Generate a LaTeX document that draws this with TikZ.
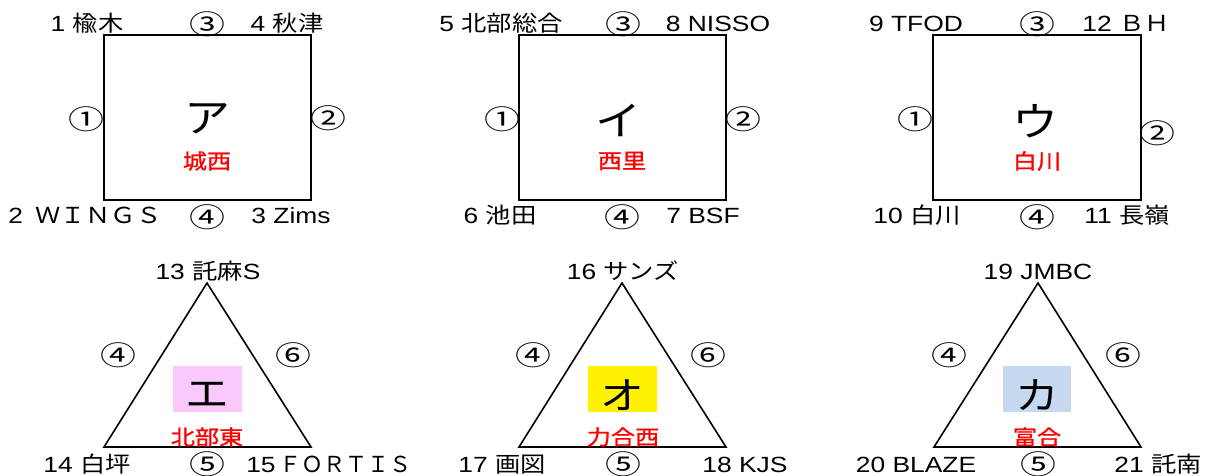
\documentclass[tikz,border=0pt]{standalone}
\usepackage{fontspec}
\setmainfont[FakeStretch=1.2]{Liberation Sans}
\newfontfamily\jp[FakeStretch=1.15]{Noto Sans CJK JP}
\newfontfamily\jpr[FakeStretch=1.15,FakeBold=1]{Noto Sans CJK JP}
\newfontfamily\jpn{Noto Sans CJK JP}
\newfontfamily\cnum[FakeStretch=1.33]{Noto Sans CJK JP}
\newcommand\J[1]{{\jp #1}}
\definecolor{pinkbg}{RGB}{250,200,250}
\definecolor{bluebg}{RGB}{198,217,240}
\begin{document}
\begin{tikzpicture}[x=1pt,y=-1pt,
  lab/.style={anchor=base, font=\fontsize{22}{26}\selectfont, inner sep=0pt},
  cn/.style={font=\cnum\fontsize{27}{30}\selectfont, inner sep=0pt},
  kana/.style={font=\jp\fontsize{40}{44}\selectfont, inner sep=0pt},
  kanat/.style={font=\jp\fontsize{38}{42}\selectfont, inner sep=0pt},
  redlab/.style={font=\jpr\fontsize{21}{25}\selectfont, text=red, inner sep=0pt},
  frame/.style={draw=black, line width=1.6pt},
  tag/.style={inner sep=0pt}]
\useasboundingbox[fill=white] (0,0) rectangle (1210,476);

% ---------- Rectangle A ----------
\coordinate (a1) at (104,35); \coordinate (a2) at (311,200);
\draw[frame] (a1) rectangle (a2);
\node[lab] (a-l1) at (87,32) {1 \J{楡木}};
\node[cn] (a-c3) at (207,24) {③};
\node[lab] (a-l4) at (287,32) {4 \J{秋津}};
\node[cn] (a-c1) at (86,119) {①};
\node[cn] (a-c2) at (328,118) {②};
\node[kana] (a-k) at (207,119) {ア};
\node[redlab] (a-r) at (207,161) {城西};
\node[lab] (a-l2) at (85,223) {2\hspace{12pt}\J{ＷＩＮＧＳ}};
\node[cn] (a-c4) at (207,217) {④};
\node[lab] (a-l3) at (291,223) {3 Zims};

% ---------- Rectangle I ----------
\coordinate (b1) at (519,35); \coordinate (b2) at (726,200);
\draw[frame] (b1) rectangle (b2);
\node[lab] (b-l5) at (501,32) {5 \J{北部総合}};
\node[cn] (b-c3) at (623,24) {③};
\node[lab] (b-l8) at (718,32) {8 NISSO};
\node[cn] (b-c1) at (502,119) {①};
\node[cn] (b-c2) at (743,119) {②};
\node[kana] (b-k) at (618,120) {イ};
\node[redlab] (b-r) at (622,161) {西里};
\node[lab] (b-l6) at (500,223) {6 \J{池田}};
\node[cn] (b-c4) at (622,217) {④};
\node[lab] (b-l7) at (703,223) {7 BSF};

% ---------- Rectangle U ----------
\coordinate (c1) at (933,35); \coordinate (c2) at (1141,200);
\draw[frame] (c1) rectangle (c2);
\node[lab] (c-l9) at (916,32) {9 TFOD};
\node[cn] (c-c3) at (1037,24) {③};
\node[lab] (c-l12) at (1126,32) {12 \J{ＢＨ}};
\node[cn] (c-c1) at (915,119) {①};
\node[cn] (c-c2) at (1157,133) {②};
\node[kana] (c-k) at (1035,121) {ウ};
\node[redlab] (c-r) at (1037,161) {白川};
\node[lab] (c-l10) at (917,223) {10 \J{白川}};
\node[cn] (c-c4) at (1037,217) {④};
\node[lab] (c-l11) at (1127,223) {11 \J{長嶺}};

% ---------- Triangle E ----------
\coordinate (d-t) at (207,283); \coordinate (d-l) at (104,447); \coordinate (d-r) at (311,447);
\draw[frame, line join=miter] (d-t) -- (d-l) -- (d-r) -- cycle;
\fill[pinkbg] (173,366) rectangle (242,412);
\node[kanat] (d-k) at (207,395) {エ};
\node[redlab] (d-rl) at (207,437) {北部東};
\node[lab] (d-l13) at (208,279) {13 \J{託麻}S};
\node[cn] (d-c4) at (118,355) {④};
\node[cn] (d-c6) at (293,355) {⑥};
\node[lab] (d-l14) at (87,472) {14 \J{白坪}};
\node[cn] (d-c5) at (207,464) {⑤};
\node[lab] (d-l15) at (329,472) {15\hspace{4pt}{\jpn ＦＯＲＴＩＳ}};

% ---------- Triangle O ----------
\coordinate (e-t) at (622,283); \coordinate (e-l) at (519,447); \coordinate (e-r) at (726,447);
\draw[frame, line join=miter] (e-t) -- (e-l) -- (e-r) -- cycle;
\fill[yellow] (588,366) rectangle (657,412);
\node[kanat] (e-k) at (622,395) {オ};
\node[redlab] (e-rl) at (623,437) {力合西};
\node[lab] (e-l16) at (623,279) {16 \J{サンズ}};
\node[cn] (e-c4) at (533,355) {④};
\node[cn] (e-c6) at (708,355) {⑥};
\node[lab] (e-l17) at (502,472) {17 \J{画図}};
\node[cn] (e-c5) at (623,464) {⑤};
\node[lab] (e-l18) at (745,472) {18 KJS};

% ---------- Triangle Ka ----------
\coordinate (f-t) at (1038,283); \coordinate (f-l) at (934,447); \coordinate (f-r) at (1141,447);
\draw[frame, line join=miter] (f-t) -- (f-l) -- (f-r) -- cycle;
\fill[bluebg] (1003,366) rectangle (1071,412);
\node[kanat] (f-k) at (1037,395) {カ};
\node[redlab] (f-rl) at (1037,437) {富合};
\node[lab] (f-l19) at (1038,279) {19 JMBC};
\node[cn] (f-c4) at (949,355) {④};
\node[cn] (f-c6) at (1123,355) {⑥};
\node[lab] (f-l20) at (916,472) {20 BLAZE};
\node[cn] (f-c5) at (1038,464) {⑤};
\node[lab] (f-l21) at (1158,472) {21 \J{託南}};
\end{tikzpicture}
\end{document}
